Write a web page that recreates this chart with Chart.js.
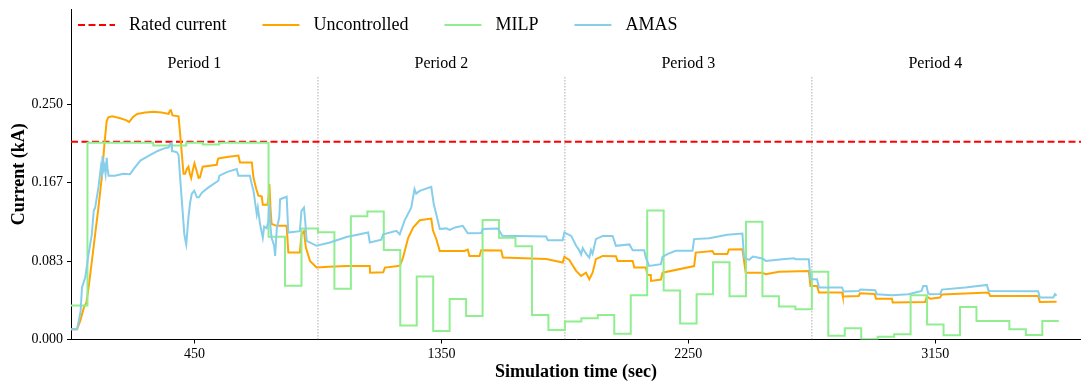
<!DOCTYPE html>
<html>
<head>
<meta charset="utf-8">
<script src="https://cdn.jsdelivr.net/npm/chart.js@4.4.0/dist/chart.umd.min.js"></script>
<style>
  html, body { margin: 0; padding: 0; background: #fff; }
  #wrap { width: 1081px; height: 383px; }
</style>
</head>
<body>
<div id="wrap"><canvas id="myChart"></canvas></div>
<script>
// values (time in sec, current in kA)
const ratedCurrent = 0.21;
const periodBounds = [900, 1800, 2700];
const periodNames = ['Period 1', 'Period 2', 'Period 3', 'Period 4'];
const periodCenters = [450, 1350, 2250, 3150];
const xTickValues = [450, 1350, 2250, 3150];
const yTickValues = [0, 0.25 / 3, 0.5 / 3, 0.25];

const uncTime = [0, 22, 34, 47, 56, 64, 76, 88, 100, 112, 122, 130, 136, 150, 180, 200, 212, 225, 241, 270,
  301, 330, 356, 360, 364, 370, 392, 400, 410, 416, 422, 428, 433, 438, 444, 450, 456, 465, 470, 475,
  480, 531, 536, 541, 575, 610, 616, 659, 665, 675, 683, 695, 699, 716, 720, 723, 727, 731, 750, 786,
  792, 834, 840, 849, 856, 871, 895, 940, 1004, 1089, 1090, 1138, 1144, 1192, 1200, 1210, 1229, 1247, 1271, 1313,
  1319, 1331, 1344, 1434, 1446, 1452, 1489, 1495, 1568, 1574, 1732, 1792, 1798, 1816, 1841, 1859, 1877, 1889, 1901, 1913,
  1938, 1986, 1992, 2047, 2053, 2095, 2101, 2113, 2114, 2150, 2156, 2271, 2277, 2338, 2344, 2392, 2398, 2447, 2459, 2519,
  2532, 2580, 2689, 2695, 2719, 2726, 2810, 2813, 2871, 2875, 2929, 2934, 2992, 2995, 3113, 3119, 3131, 3167, 3174, 3344,
  3350, 3525, 3531, 3592];
const uncCurrent = [0.011, 0.011, 0.020, 0.034, 0.039, 0.055, 0.083, 0.112, 0.140, 0.172, 0.208, 0.232, 0.236, 0.237, 0.235, 0.233, 0.231, 0.236, 0.2396, 0.241,
  0.242, 0.241, 0.2396, 0.243, 0.2435, 0.238, 0.237, 0.211, 0.176, 0.176, 0.181, 0.1835, 0.176, 0.1715, 0.180, 0.187, 0.181, 0.1715, 0.172, 0.178,
  0.1835, 0.1856, 0.192, 0.1924, 0.194, 0.1953, 0.188, 0.188, 0.172, 0.160, 0.1527, 0.152, 0.143, 0.143, 0.152, 0.165, 0.140, 0.1226, 0.1207, 0.1207,
  0.0923, 0.0923, 0.1117, 0.115, 0.0977, 0.0835, 0.0764, 0.0772, 0.078, 0.0781, 0.071, 0.0715, 0.0764, 0.078, 0.079, 0.087, 0.108, 0.119, 0.1266, 0.1284,
  0.116, 0.107, 0.094, 0.094, 0.0955, 0.0888, 0.0888, 0.0949, 0.0945, 0.087, 0.0855, 0.0817, 0.0878, 0.0845, 0.0729, 0.0676, 0.071, 0.064, 0.071, 0.0853,
  0.0888, 0.0885, 0.0835, 0.0835, 0.0764, 0.0764, 0.0686, 0.0686, 0.0622, 0.0636, 0.071, 0.078, 0.0923, 0.094, 0.0907, 0.0907, 0.0955, 0.0958, 0.071, 0.071,
  0.0693, 0.072, 0.0727, 0.0569, 0.0569, 0.0498, 0.0498, 0.0456, 0.0463, 0.0491, 0.0484, 0.0434, 0.0434, 0.0392, 0.0399, 0.0456, 0.0434, 0.0445, 0.0477, 0.0498,
  0.0463, 0.0463, 0.0399, 0.0402];

const milpStart = [0, 60, 120, 180, 240, 300, 360, 420, 480, 540, 600, 660, 720, 780, 840, 900, 960, 1020, 1080, 1140,
  1200, 1260, 1320, 1380, 1440, 1500, 1560, 1620, 1680, 1740, 1800, 1860, 1920, 1980, 2040, 2100, 2160, 2220, 2280, 2340,
  2400, 2460, 2520, 2580, 2640, 2700, 2760, 2820, 2880, 2940, 3000, 3060, 3120, 3180, 3240, 3300, 3360, 3420, 3480, 3540];
const milpCurrent = [0.036, 0.209, 0.209, 0.209, 0.209, 0.206, 0.206, 0.209, 0.207, 0.209, 0.209, 0.209, 0.109, 0.057, 0.118, 0.114, 0.054, 0.131, 0.136, 0.095,
  0.015, 0.067, 0.009, 0.043, 0.025, 0.127, 0.108, 0.099, 0.026, 0.010, 0.019, 0.0225, 0.026, 0.006, 0.047, 0.137, 0.052, 0.017, 0.048, 0.082,
  0.046, 0.125, 0.046, 0.035, 0.032, 0.072, 0.004, 0.012, 0.0003, 0.003, 0.0055, 0.047, 0.016, 0.0045, 0.0346, 0.0197, 0.0197, 0.0108, 0.0048, 0.0197];
const milpEnd = 3600;

const amasTime = [0, 22, 30, 35, 40, 52, 64, 76, 83, 88, 100, 109, 112, 115, 118, 122, 126, 130, 133, 137,
  160, 191, 215, 228, 253, 270, 289, 318, 340, 356, 361, 366, 368, 374, 386, 392, 396, 404, 413, 417,
  420, 428, 434, 440, 449, 459, 466, 477, 501, 537, 541, 570, 604, 610, 652, 658, 665, 677, 681, 689,
  699, 704, 713, 719, 723, 727, 731, 740, 744, 750, 759, 762, 786, 792, 834, 840, 849, 853, 859, 895,
  944, 1004, 1083, 1089, 1131, 1138, 1186, 1198, 1216, 1240, 1252, 1258, 1271, 1313, 1322, 1331, 1344, 1368, 1380, 1400,
  1428, 1446, 1495, 1501, 1556, 1572, 1732, 1738, 1792, 1798, 1823, 1841, 1852, 1859, 1865, 1871, 1880, 1889, 1895, 1901,
  1913, 1938, 1974, 1986, 2035, 2047, 2089, 2095, 2107, 2150, 2156, 2175, 2204, 2265, 2271, 2326, 2392, 2447, 2453, 2471,
  2485, 2520, 2532, 2592, 2635, 2641, 2689, 2695, 2719, 2726, 2810, 2816, 2871, 2877, 2931, 2937, 2992, 3052, 3100, 3106,
  3118, 3124, 3131, 3168, 3174, 3259, 3338, 3344, 3350, 3525, 3531, 3580, 3586, 3592];
const amasCurrent = [0.011, 0.011, 0.022, 0.030, 0.055, 0.066, 0.0906, 0.112, 0.137, 0.140, 0.1615, 0.183, 0.178, 0.195, 0.180, 0.1845, 0.176, 0.193, 0.182, 0.174,
  0.174, 0.176, 0.1755, 0.181, 0.190, 0.193, 0.196, 0.2005, 0.203, 0.204, 0.2076, 0.2083, 0.200, 0.200, 0.1988, 0.196, 0.179, 0.147, 0.112, 0.105,
  0.101, 0.1295, 0.145, 0.1545, 0.158, 0.151, 0.151, 0.156, 0.1615, 0.1686, 0.174, 0.178, 0.181, 0.174, 0.174, 0.166, 0.158, 0.133, 0.140, 0.1226,
  0.108, 0.120, 0.118, 0.125, 0.1438, 0.120, 0.108, 0.100, 0.0888, 0.118, 0.1295, 0.149, 0.1516, 0.1136, 0.115, 0.1367, 0.140, 0.128, 0.1048, 0.0995,
  0.103, 0.1088, 0.1136, 0.103, 0.106, 0.1117, 0.1154, 0.1117, 0.1266, 0.140, 0.1597, 0.155, 0.1578, 0.1622, 0.1438, 0.1333, 0.1174, 0.118, 0.1165, 0.119,
  0.1207, 0.1128, 0.113, 0.1174, 0.1178, 0.1102, 0.1094, 0.1053, 0.1053, 0.1136, 0.110, 0.0995, 0.095, 0.0904, 0.097, 0.094, 0.090, 0.087, 0.095, 0.091,
  0.1066, 0.110, 0.110, 0.0995, 0.101, 0.0949, 0.0949, 0.087, 0.0782, 0.080, 0.0878, 0.091, 0.0942, 0.0942, 0.1066, 0.1076, 0.1112, 0.1125, 0.087, 0.0845,
  0.088, 0.086, 0.0835, 0.0853, 0.0863, 0.0853, 0.0853, 0.064, 0.064, 0.0551, 0.0551, 0.0509, 0.0516, 0.053, 0.0523, 0.0481, 0.047, 0.0481, 0.0516, 0.0569,
  0.0569, 0.049, 0.0481, 0.0484, 0.053, 0.0552, 0.058, 0.052, 0.0516, 0.0512, 0.0445, 0.0445, 0.0481, 0.0466];

const X_MAX = 3681;
const Y_MAX = 0.351;
const FONT = 'Liberation Serif';

function toPoints(xs, ys) {
  return xs.map((x, i) => ({ x: x, y: ys[i] }));
}

const milpPoints = toPoints(milpStart, milpCurrent);
milpPoints.push({ x: milpEnd, y: milpCurrent[milpCurrent.length - 1] });

const legendItems = [
  { text: 'Rated current', color: 'red', dash: [7, 3.5] },
  { text: 'Uncontrolled', color: 'orange', dash: [] },
  { text: 'MILP', color: 'lightgreen', dash: [] },
  { text: 'AMAS', color: 'skyblue', dash: [] }
];

// legend and period labels drawn inside the axes, like the original
const overlayPlugin = {
  id: 'overlay',
  afterDraw(chart) {
    const ctx = chart.ctx;
    const area = chart.chartArea;
    const xs = chart.scales.x;
    ctx.save();
    ctx.textBaseline = 'middle';
    ctx.fillStyle = '#000';

    ctx.font = '18px "' + FONT + '"';
    let x = area.left + 7;
    const ly = area.top + 16;
    legendItems.forEach(item => {
      ctx.beginPath();
      ctx.strokeStyle = item.color;
      ctx.lineWidth = 2;
      ctx.setLineDash(item.dash);
      ctx.moveTo(x, ly);
      ctx.lineTo(x + 37, ly);
      ctx.stroke();
      ctx.setLineDash([]);
      ctx.textAlign = 'left';
      ctx.fillText(item.text, x + 51, ly);
      x += 51 + ctx.measureText(item.text).width + 36;
    });

    ctx.font = '16px "' + FONT + '"';
    ctx.textAlign = 'center';
    periodNames.forEach((name, i) => {
      ctx.fillText(name, xs.getPixelForValue(periodCenters[i]), area.top + 55);
    });
    ctx.restore();
  }
};

const datasets = [
  {
    label: 'AMAS', data: toPoints(amasTime, amasCurrent), borderColor: 'skyblue',
    borderWidth: 2, pointRadius: 0, tension: 0, order: 1
  },
  {
    label: 'MILP', data: milpPoints, borderColor: 'lightgreen', stepped: 'before',
    borderWidth: 2, pointRadius: 0, order: 2
  },
  {
    label: 'Uncontrolled', data: toPoints(uncTime, uncCurrent), borderColor: 'orange',
    borderWidth: 2, pointRadius: 0, tension: 0, order: 3
  },
  {
    label: 'Rated current', data: [{ x: 0, y: ratedCurrent }, { x: X_MAX, y: ratedCurrent }],
    borderColor: 'red', borderDash: [7, 3.5], borderWidth: 2, pointRadius: 0, order: 4
  }
];
periodBounds.forEach(b => {
  datasets.push({
    label: 'bound', data: [{ x: b, y: 0 }, { x: b, y: 0.28 }],
    borderColor: 'rgba(140,140,140,0.9)', borderDash: [1.5, 1.5], borderWidth: 0.8,
    pointRadius: 0, order: 5
  });
});

new Chart(document.getElementById('myChart'), {
  type: 'line',
  data: { datasets: datasets },
  plugins: [overlayPlugin],
  options: {
    responsive: true,
    maintainAspectRatio: false,
    animation: false,
    layout: { padding: { top: 9, right: 0, left: 0, bottom: 0 } },
    plugins: { legend: { display: false }, tooltip: { enabled: false } },
    scales: {
      x: {
        type: 'linear', min: 0, max: X_MAX,
        afterBuildTicks: s => { s.ticks = xTickValues.map(v => ({ value: v })); },
        afterFit: s => { s.height = 43.5; s.paddingLeft = 0; s.paddingRight = 0; },
        ticks: {
          color: '#000', font: { family: FONT, size: 14 }, padding: 2,
          maxRotation: 0, autoSkip: false, callback: v => String(v)
        },
        grid: { display: true, drawOnChartArea: false, drawTicks: true, tickLength: 4, color: '#000' },
        border: { display: true, color: '#000', width: 1 },
        title: {
          display: true, text: 'Simulation time (sec)', color: '#000',
          font: { family: FONT, size: 18, weight: 'bold' }, padding: { top: 0, bottom: 0 }
        }
      },
      y: {
        min: 0, max: Y_MAX,
        afterBuildTicks: s => { s.ticks = yTickValues.map(v => ({ value: v })); },
        afterFit: s => { s.width = 71; s.paddingTop = 0; s.paddingBottom = 0; },
        ticks: {
          color: '#000', font: { family: FONT, size: 14 }, padding: 4,
          callback: v => v.toFixed(3)
        },
        grid: { display: true, drawOnChartArea: false, drawTicks: true, tickLength: 4, color: '#000' },
        border: { display: true, color: '#000', width: 1 },
        title: {
          display: true, text: 'Current (kA)', color: '#000',
          font: { family: FONT, size: 18, weight: 'bold' }, padding: { top: 9, bottom: 0 }
        }
      }
    }
  }
});
</script>
</body>
</html>
